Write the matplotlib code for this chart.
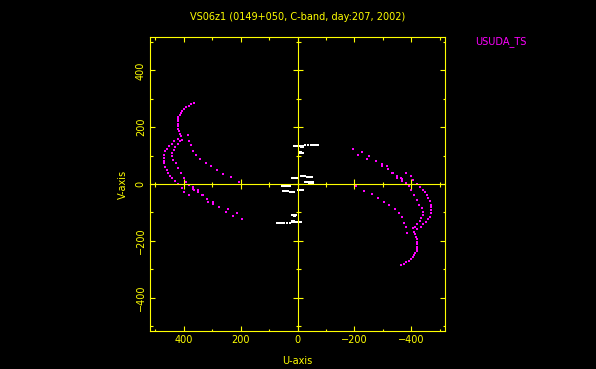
import matplotlib
matplotlib.use("Agg")
import matplotlib.pyplot as plt
from matplotlib.ticker import MultipleLocator

# uv points (one half, the other half is the conjugate -u,-v)
# magenta: USUDA_TS baselines
arc_top_u = [365, 374, 382, 391, 398, 404, 409, 414, 418, 420, 421, 421, 421, 419, 416, 412]
arc_top_v = [284, 281, 276, 270, 264, 258, 251, 244, 237, 230, 221, 211, 203, 195, 186, 176]

tail_up_u = [384, 380, 374, 368, 357, 341, 322, 304, 283, 260, 234, 205]
tail_up_v = [174, 150, 138, 117, 101, 88, 75, 63, 49, 35, 24, 8]

c_out_u = [409, 421, 433, 442, 450, 459, 464, 468, 468, 468, 470, 466, 460, 454, 447,
           439, 431, 421, 407, 398, 380]
c_out_v = [168, 160, 150, 141, 133, 123, 115, 103, 92, 80, 73, 61, 49, 38, 28,
           20, 11, -1, -15, -27, -39]

tail_lo_u = [368, 350, 336, 318, 297, 276, 252, 245, 227, 213, 195]
tail_lo_v = [-19, -21, -39, -54, -70, -82, -98, -89, -113, -101, -123]

c_in_u = [404, 412, 421, 429, 435, 439, 439, 436, 427, 419, 409, 400, 392, 380, 368,
          365, 351, 333, 316, 295]
c_in_v = [156, 150, 141, 131, 121, 109, 98, 86, 73, 55, 38, 20, 8, -4, -10,
          -21, -27, -39, -62, -62]

# white: short ground baselines
short_u = [14, 10, 7, 3, 0, -4, -7, -11, -14, -18, -14, -18,
           -25, -36, -46, -50, -57, -65, -71,
           -7, -11, -14, -18, -21, -9, -14,
           19, 16, 12, 9, 5, 2,
           -11, -16, -21, -27, -35, -40, -46, -52,
           -25, -30, -35, -40, -45, -50, -53, -42, -47, -53]
short_v = [134, 134, 134, 134, 134, 134, 134, 134, 134, 134, 130, 130,
           139, 139, 139, 139, 136, 136, 136,
           110, 110, 110, 110, 110, 113, 113,
           22, 22, 22, 22, 22, 22,
           29, 29, 29, 29, 26, 26, 26, 26,
           7, 7, 7, 7, 7, 7, 7, 5, 5, 5]

title = "VS06z1 (0149+050, C-band, day:207, 2002)"
station = "USUDA_TS"
lim = 518

yellow = "#ffff00"
magenta = "#ff00ff"

plt.rcParams["font.family"] = ["DejaVu Sans"]
fig = plt.figure(figsize=(5.96, 3.69), dpi=100, facecolor="black")
pos = [150 / 596, 1 - 331 / 369, 295 / 596, 294 / 369]
ax = fig.add_axes(pos)
ax.set_facecolor("black")

mag_u = arc_top_u + tail_up_u + c_out_u + tail_lo_u + c_in_u
mag_v = arc_top_v + tail_up_v + c_out_v + tail_lo_v + c_in_v
for sign in (1, -1):
    ax.plot([sign * u for u in mag_u], [sign * v for v in mag_v], ls="none",
            marker="s", ms=1.6, mew=0, color=magenta)
    ax.plot([sign * u for u in short_u], [sign * v for v in short_v], ls="none",
            marker="s", ms=1.6, mew=0, color="white")

ax.set_xlim(lim, -lim)
ax.set_ylim(-lim, lim)
for s in ax.spines.values():
    s.set_color(yellow)
    s.set_linewidth(0.8)
ax.xaxis.set_major_locator(MultipleLocator(200))
ax.xaxis.set_minor_locator(MultipleLocator(100))
ax.yaxis.set_major_locator(MultipleLocator(200))
ax.yaxis.set_minor_locator(MultipleLocator(100))
ax.tick_params(which="both", direction="in", top=True, right=True, colors=yellow,
               labelsize=7, width=0.8, pad=3)
ax.tick_params(which="major", length=3.3)
ax.tick_params(which="minor", length=1.8)
for lab in ax.get_yticklabels():
    lab.set_rotation(90)
    lab.set_va("center")
ax.set_xlabel("U-axis", color=yellow, fontsize=7, labelpad=8)
ax.set_ylabel("V-axis", color=yellow, fontsize=7, labelpad=6)

# cross axes through the origin
ax0 = fig.add_axes(pos, sharex=ax, sharey=ax)
ax0.patch.set_visible(False)
ax0.spines["top"].set_visible(False)
ax0.spines["right"].set_visible(False)
ax0.spines["left"].set_position(("data", 0))
ax0.spines["bottom"].set_position(("data", 0))
for k in ("left", "bottom"):
    ax0.spines[k].set_color(yellow)
    ax0.spines[k].set_linewidth(0.8)
ax0.tick_params(which="both", direction="inout", colors=yellow, width=0.8,
                labelbottom=False, labelleft=False)
ax0.tick_params(which="major", length=7.2)
ax0.tick_params(which="minor", length=3.6)

fig.text(298 / 596, 1 - 17 / 369, title, color=yellow, fontsize=7,
         ha="center", va="center")
fig.text(475 / 596, 1 - 42 / 369, station, color=magenta, fontsize=7,
         ha="left", va="center")

fig.savefig("out.png", dpi=100, facecolor="black")
